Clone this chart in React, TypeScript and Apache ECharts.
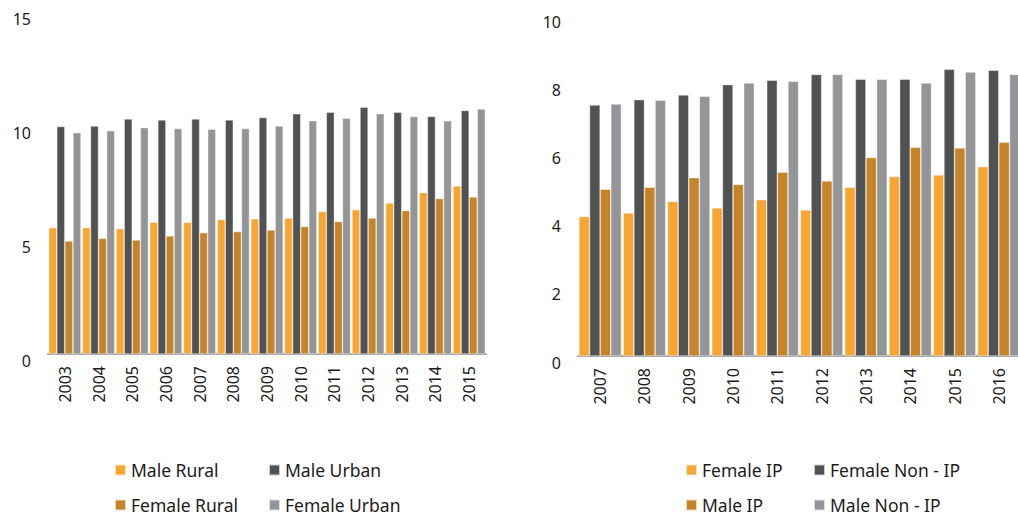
import React, { useEffect, useRef } from "react";
import * as echarts from "echarts";

// ---------- data ----------
const leftYears = ["2003", "2004", "2005", "2006", "2007", "2008", "2009", "2010", "2011", "2012", "2013", "2014", "2015"];
const maleRural = [5.54, 5.54, 5.5, 5.78, 5.78, 5.9, 5.93, 5.97, 6.25, 6.33, 6.63, 7.08, 7.37];
const maleUrban = [9.98, 10.0, 10.31, 10.27, 10.31, 10.27, 10.37, 10.54, 10.61, 10.83, 10.61, 10.42, 10.68];
const femaleRural = [4.96, 5.08, 5.0, 5.18, 5.32, 5.37, 5.44, 5.59, 5.81, 5.97, 6.29, 6.82, 6.89];
const femaleUrban = [9.71, 9.79, 9.93, 9.89, 9.86, 9.89, 10.0, 10.23, 10.34, 10.54, 10.42, 10.23, 10.75];
const leftTicks = { min: 0, max: 15, interval: 5 };

const rightYears = ["2007", "2008", "2009", "2010", "2011", "2012", "2013", "2014", "2015", "2016"];
const femaleIP = [4.1, 4.2, 4.54, 4.35, 4.59, 4.29, 4.96, 5.27, 5.32, 5.56];
const femaleNonIP = [7.37, 7.53, 7.67, 7.97, 8.1, 8.27, 8.13, 8.13, 8.42, 8.39];
const maleIP = [4.9, 4.96, 5.24, 5.04, 5.4, 5.14, 5.83, 6.13, 6.11, 6.28];
const maleNonIP = [7.4, 7.51, 7.63, 8.02, 8.07, 8.27, 8.13, 8.02, 8.34, 8.27];
const rightTicks = { min: 0, max: 10, interval: 2 };

const leftSeriesNames = ["Male Rural", "Male Urban", "Female Rural", "Female Urban"];
const rightSeriesNames = ["Female IP", "Female Non - IP", "Male IP", "Male Non - IP"];

// ---------- styles ----------
const COLORS = ["#F8A532", "#505254", "#C48427", "#939598"];
const FONT = "'Noto Sans', 'DejaVu Sans', sans-serif";
const TEXT = "#1E1B1C";

export default function App() {
  const ref = useRef<HTMLDivElement>(null);

  useEffect(() => {
    if (!ref.current) return;
    const chart = echarts.init(ref.current, undefined, { renderer: "svg" });

    const leftData = [maleRural, maleUrban, femaleRural, femaleUrban];
    const rightData = [femaleIP, femaleNonIP, maleIP, maleNonIP];

    const xAxisCommon = (idx: number, cats: string[]) => ({
      type: "category",
      gridIndex: idx,
      data: cats,
      axisTick: { show: false },
      axisLine: { show: true, lineStyle: { color: "#A7A8AA", width: 2 } },
      axisLabel: {
        rotate: 90,
        margin: 12,
        fontSize: 16,
        fontFamily: FONT,
        color: TEXT,
        interval: 0,
      },
    });

    const yAxisCommon = (idx: number, t: { min: number; max: number; interval: number }) => ({
      type: "value",
      gridIndex: idx,
      min: t.min,
      max: t.max,
      interval: t.interval,
      splitLine: { show: false },
      axisLine: { show: false },
      axisTick: { show: false },
      axisLabel: {
        fontSize: 16,
        fontFamily: FONT,
        color: TEXT,
        margin: 17,
        verticalAlign: "top",
        lineHeight: 13,
      },
    });

    const mkSeries = (names: string[], data: number[][], axisIdx: number) =>
      names.map((name, i) => ({
        name,
        type: "bar",
        xAxisIndex: axisIdx,
        yAxisIndex: axisIdx,
        data: data[i],
        barGap: "0%",
        barCategoryGap: "4%",
        itemStyle: { color: COLORS[i], borderColor: "rgba(255,255,255,0.7)", borderWidth: 0.6 },
        emphasis: { disabled: true },
      }));

    const legendPos = [
      // left chart
      { name: leftSeriesNames[0], left: 114, top: 461 },
      { name: leftSeriesNames[1], left: 268, top: 461 },
      { name: leftSeriesNames[2], left: 114, top: 496 },
      { name: leftSeriesNames[3], left: 268, top: 496 },
      // right chart
      { name: rightSeriesNames[0], left: 685, top: 461 },
      { name: rightSeriesNames[1], left: 813, top: 461 },
      { name: rightSeriesNames[2], left: 685, top: 496 },
      { name: rightSeriesNames[3], left: 813, top: 496 },
    ];

    chart.setOption({
      animation: false,
      textStyle: { fontFamily: FONT },
      grid: [
        { left: 48, top: 12, width: 438, height: 342 },
        { left: 578, top: 15.5, width: 443, height: 340.5 },
      ],
      xAxis: [xAxisCommon(0, leftYears), xAxisCommon(1, rightYears)],
      yAxis: [yAxisCommon(0, leftTicks), yAxisCommon(1, rightTicks)],
      legend: legendPos.map((p) => ({
        data: [p.name],
        left: p.left,
        top: p.top,
        padding: 0,
        icon: "rect",
        itemWidth: 11,
        itemHeight: 11,
        selectedMode: false,
        textStyle: { fontSize: 17.5, fontFamily: FONT, color: TEXT },
      })),
      series: [...mkSeries(leftSeriesNames, leftData, 0), ...mkSeries(rightSeriesNames, rightData, 1)],
    });

    return () => chart.dispose();
  }, []);

  return (
    <div
      style={{
        position: "fixed",
        left: 0,
        top: 0,
        width: 1018,
        height: 521,
        overflow: "hidden",
        background: "#fff",
      }}
    >
      <div ref={ref} style={{ width: 1032, height: 521 }} />
    </div>
  );
}
